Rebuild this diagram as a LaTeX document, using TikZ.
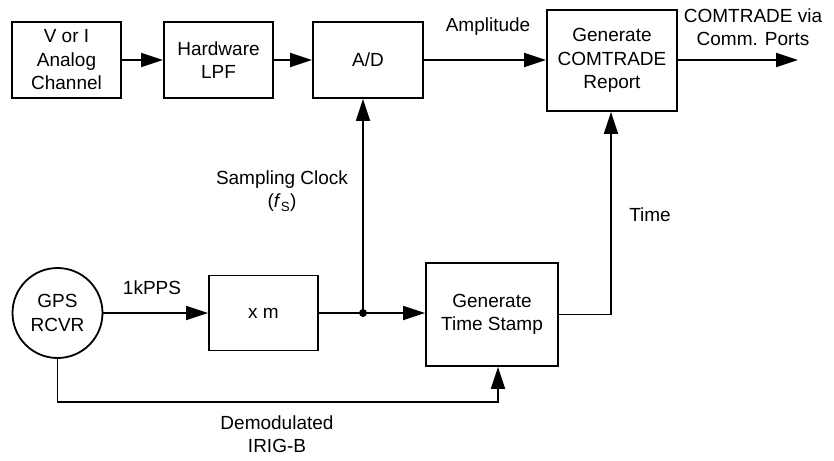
\documentclass[tikz,border=0pt]{standalone}
\usepackage{fontspec}
\setmainfont{Liberation Sans}
\usetikzlibrary{arrows.meta}

\begin{document}
\begin{tikzpicture}[x=1pt,y=-1pt,
  font=\fontsize{19}{23.5}\selectfont,
  wire/.style={line width=1.8pt},
  flow/.style={wire,-{Triangle[length=22pt,width=14pt]}},
  blockbox/.style={draw,line width=1.8pt,align=center,inner sep=0pt},
  lbl/.style={align=center,inner sep=0pt}]
\useasboundingbox (0,0) rectangle (834,460);

% top row: analog signal path
\node[blockbox,minimum width=109pt,minimum height=76pt] (ch)  at (66.5,60)  {V or I\\Analog\\Channel};
\node[blockbox,minimum width=109pt,minimum height=76pt] (lpf) at (218.5,60) {Hardware\\LPF};
\node[blockbox,minimum width=110pt,minimum height=76pt] (ad)  at (368,60)   {A/D};
\node[blockbox,minimum width=130pt,minimum height=101pt] (rep) at (612,60.5) {Generate\\COMTRADE\\Report};
\coordinate (out) at (798,60);

% bottom row: timing path
\node[draw,circle,line width=1.8pt,minimum size=90pt,align=center,inner sep=0pt] (gps) at (57.5,313) {GPS\\RCVR};
\node[blockbox,minimum width=109pt,minimum height=75pt] (xm) at (263.5,313) {x m};
\node[blockbox,minimum width=132pt,minimum height=103pt] (ts) at (492,314.5) {Generate\\Time Stamp};
\coordinate (tap) at (363,313);
\coordinate (irig) at (498,402);

% connectors
\draw[flow] (ch) -- (lpf);
\draw[flow] (lpf) -- (ad);
\draw[flow] (ad) -- (rep.west |- ad);
\draw[flow] (rep.east |- out) -- (out);
\draw[flow] (gps.east) -- (xm.west |- gps.east);
\draw[wire] (xm.east) -- (tap);
\draw[flow] (tap) -- (ts.west |- tap);
\draw[flow] (tap) -- (tap |- ad.south);
\fill (tap) circle (4pt);
\draw[flow] (ts.east) -- (ts.east -| 611,0) -- (611,0 |- rep.south);
\draw[flow] (gps.south) |- (irig) -- (irig |- ts.south);

% labels
\node[lbl] (amp) at (488,27) {Amplitude};
\node[lbl] (outl) at (753,27) {COMTRADE via\\Comm. Ports};
\node[lbl] (clk) at (282,191) {Sampling Clock\\(\textit{f}\textsubscript{S})};
\node[lbl] (pps) at (152,288) {1kPPS};
\node[lbl] (tim) at (650,215) {Time};
\node[lbl] (dem) at (277,434) {Demodulated\\IRIG-B};
\end{tikzpicture}
\end{document}
